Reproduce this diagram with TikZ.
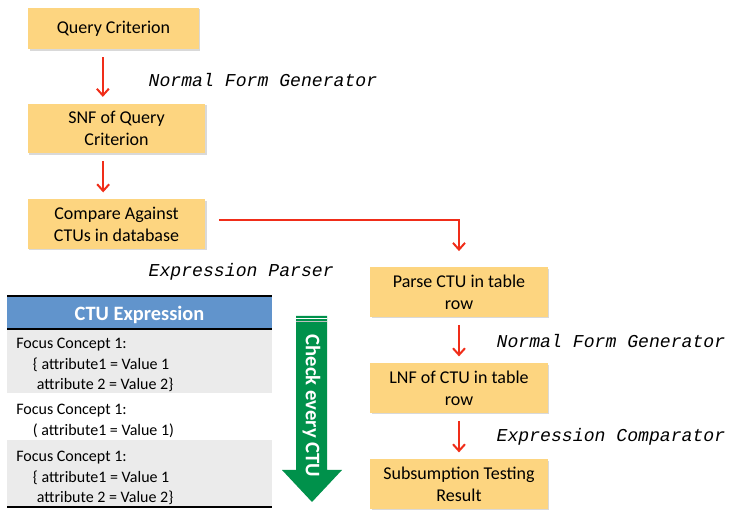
\documentclass[tikz,border=0pt]{standalone}
\usepackage{fontspec}
\setmainfont{Carlito}
\newfontfamily\codefont{Liberation Mono}
\usetikzlibrary{arrows.meta,shadows}
\definecolor{boxfill}{RGB}{253,213,128}
\definecolor{flowred}{RGB}{240,45,25}
\definecolor{headblue}{RGB}{97,148,204}
\definecolor{rowgray}{RGB}{235,235,235}
\definecolor{checkgreen}{RGB}{0,145,75}
\begin{document}
\begin{tikzpicture}[x=0.75pt, y=-0.75pt,
  step box/.style={fill=boxfill, minimum width=133pt, minimum height=37pt, align=center, inner sep=2pt,
    font=\fontsize{13.5}{16.5}\selectfont, drop shadow={shadow xshift=1pt, shadow yshift=-1.2pt, opacity=0.3}},
  flow/.style={draw=flowred, line width=1.5pt, -{Straight Barb[length=5pt, width=9pt]}, shorten <=6pt, shorten >=5pt},
  tool/.style={anchor=west, font=\codefont\itshape\fontsize{13.6}{16}\selectfont},
  rowtext/.style={anchor=north west, align=left, inner sep=0pt, font=\fontsize{12}{15.4}\selectfont}]
\useasboundingbox (0,0) rectangle (733,516);

% left column
\node[step box, minimum width=128pt, minimum height=31pt] (qc) at (113.5,28.5) {Query Criterion};
\node[step box] (snf) at (116.5,128.5) {SNF of Query\\Criterion};
\node[step box] (cmp) at (116.5,224) {Compare Against\\CTUs in database};
\draw[flow] ([xshift=-8pt]qc.south) -- ([xshift=-8pt]qc.south |- snf.north);
\draw[flow] ([xshift=-10pt]snf.south) -- ([xshift=-10pt]snf.south |- cmp.north);
\node[tool] (nfg1) at (144,80) {Normal Form Generator};

% right column
\node[step box] (parse) at (459,292) {Parse CTU in table\\row};
\node[step box] (lnf) at (459,388) {LNF of CTU in table\\row};
\node[step box] (res) at (459,484) {Subsumption Testing\\Result};
\draw[flow, shorten <=10pt, shorten >=12pt] ([yshift=3pt]cmp.east) -| (parse.north);
\draw[flow] (parse) -- (lnf);
\draw[flow] (lnf) -- (res);
\node[tool] (exp) at (144,272) {Expression Parser};
\node[tool] (nfg2) at (492,341) {Normal Form Generator};
\node[tool] (cmpr) at (492,437) {Expression Comparator};

% CTU table
\fill[headblue] (7,296) rectangle (272,329);
\fill[rowgray] (7,329) rectangle (272,393);
\fill[rowgray] (7,440) rectangle (272,507);
\draw[line width=1.5pt] (7,296) -- (272,296);
\draw[line width=1.1pt] (7,329) -- (272,329);
\draw[line width=1.5pt] (7,507) -- (272,507);
\node[text=white, font=\bfseries\fontsize{15.3}{18}\selectfont] (head) at (139.5,314.5) {CTU Expression};
\node[rowtext] (row1) at (16,338) {Focus Concept 1:\\\hspace*{12.5pt}\{ attribute1 = Value 1\\\hspace*{15.5pt}attribute 2 = Value 2\}};
\node[rowtext] (row2) at (16,404) {Focus Concept 1:\\\hspace*{12.5pt}( attribute1 = Value 1)};
\node[rowtext] (row3) at (16,451) {Focus Concept 1:\\\hspace*{12.5pt}\{ attribute1 = Value 1\\\hspace*{15.5pt}attribute 2 = Value 2\}};

% check arrow
\fill[checkgreen] (296,316) -- (327,316) -- (327,470) -- (342,470) -- (312,502) -- (282,470) -- (296,470) -- cycle;
\draw[white, line width=0.8pt] (296,318.5) -- (327,318.5);
\draw[black!25, line width=0.8pt] (296,321.5) -- (327,321.5);
\node[rotate=-90, text=white, font=\bfseries\fontsize{15.5}{18}\selectfont] (chk) at (311.5,406) {Check every CTU};
\end{tikzpicture}
\end{document}
